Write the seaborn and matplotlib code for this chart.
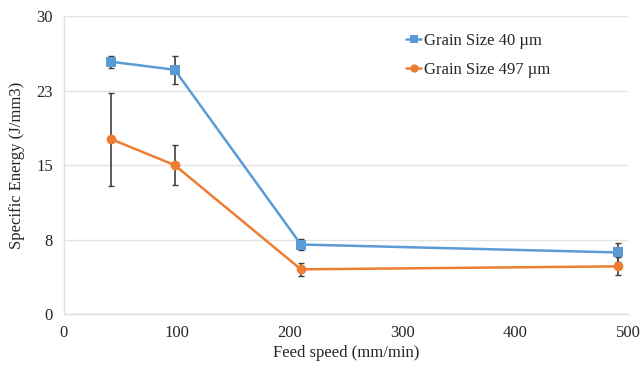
import matplotlib
matplotlib.use("Agg")
import matplotlib.pyplot as plt
import seaborn as sns
import pandas as pd
import numpy as np

feed_speed = [42, 98, 210, 491]
energy_40 = [25.4, 24.6, 7.0, 6.2]
err_40 = [0.6, 1.4, 0.55, 1.0]
energy_497 = [17.6, 15.0, 4.5, 4.8]
err_497 = [4.7, 2.05, 0.65, 0.9]
series_names = ["Grain Size 40 µm", "Grain Size 497 µm"]
colors = ["#5B9BD5", "#ED7D31"]
markers = ["s", "o"]
yticks = [0, 7.5, 15, 22.5, 30]
ytick_labels = ["0", "8", "15", "23", "30"]
xticks = [0, 100, 200, 300, 400, 500]

df = pd.DataFrame({
    "x": feed_speed * 2,
    "y": energy_40 + energy_497,
    "err": err_40 + err_497,
    "series": [series_names[0]] * 4 + [series_names[1]] * 4,
})

sns.set_style("white")
plt.rcParams["font.family"] = ["Liberation Serif", "DejaVu Serif"]

fig = plt.figure(figsize=(6.43, 3.66), dpi=100)
ax = fig.add_axes([0.0995, 0.142, 0.8775, 0.814])

for name, c in zip(series_names, colors):
    sub = df[df.series == name]
    ax.errorbar(sub.x, sub.y, yerr=sub.err, fmt="none", ecolor="#404040",
                elinewidth=1.2, capsize=2, capthick=1, zorder=2)

sns.lineplot(data=df, x="x", y="y", hue="series", style="series",
             palette=colors, markers=markers, dashes=False, ax=ax,
             linewidth=1.8, markersize=7, markeredgewidth=0, zorder=3,
             estimator=None, sort=False)

ax.set_xlim(0, 500)
ax.set_ylim(0, 30)
ax.set_yticks(yticks)
ax.set_yticklabels(ytick_labels)
ax.set_xticks(xticks)
ax.tick_params(axis="both", labelsize=12, length=0, pad=8)
ax.yaxis.grid(True, color="#E3E3E3", linewidth=1)
ax.xaxis.grid(False)
for s in ["top", "right"]:
    ax.spines[s].set_visible(False)
for s in ["left", "bottom"]:
    ax.spines[s].set_color("#E0E0E0")
    ax.spines[s].set_linewidth(1)
ax.set_xlabel("Feed speed (mm/min)", fontsize=12, labelpad=3)
ax.set_ylabel("Specific Energy (J/mm3)", fontsize=12, labelpad=8)

leg = ax.legend(loc="upper left", bbox_to_anchor=(0.58, 0.995), frameon=False,
                fontsize=12, handlelength=0.9, handletextpad=0.15,
                labelspacing=0.8)
for h in leg.legend_handles:
    h.set_markersize(6)

fig.savefig("out.png", dpi=100)
